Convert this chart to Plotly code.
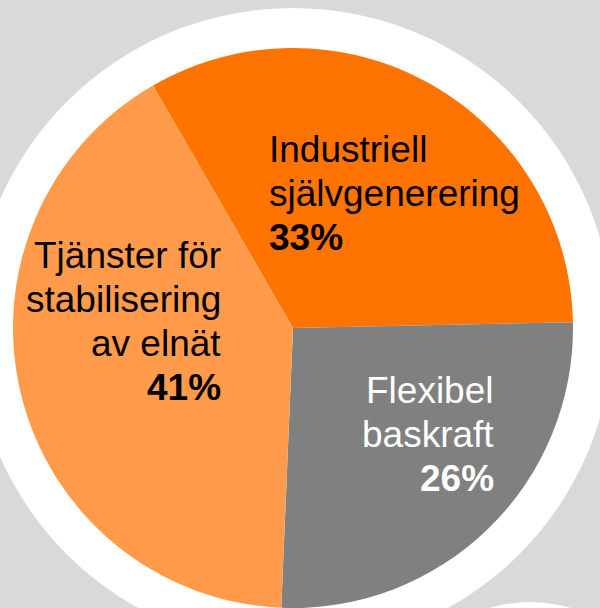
import plotly.graph_objects as go

# data
etiketter = ['Industriell<br>självgenerering', 'Flexibel<br>baskraft', 'Tjänster för<br>stabilisering<br>av elnät']
andelar = [33, 26, 41]
farger = ['#ff7300', '#808080', '#ff9b4b']
textfarger = ['black', 'white', 'black']

W, H = 600, 608
cx, cy, r = 293, 328, 280   # pie centre / radius in px


def px_x(x):
    return x / W


def px_y(y):
    return (H - y) / H


def cirkel(x, y, rad, farg):
    return dict(type='circle', xref='paper', yref='paper', layer='below',
                x0=px_x(x - rad), x1=px_x(x + rad),
                y0=px_y(y + rad), y1=px_y(y - rad),
                fillcolor=farg, line=dict(width=0))


fig = go.Figure(data=[go.Pie(
    labels=[e.replace('<br>', ' ') for e in etiketter], values=andelar,
    marker=dict(colors=farger, line=dict(width=0)),
    sort=False, direction='clockwise', rotation=-30,
    textinfo='none', hoverinfo='label+percent', showlegend=False,
    domain=dict(x=[px_x(cx - r), px_x(cx + r)], y=[px_y(cy + r), px_y(cy - r)]))
])

# label text, one annotation per line (x anchor px, first baseline px, align)
placering = [(268, 162, 'left'), (495, 403, 'right'), (222, 268, 'right')]
radavstand = 44
fs = 37

annots = []
for i, (etikett, andel) in enumerate(zip(etiketter, andelar)):
    x, bas, just = placering[i]
    rader = etikett.split('<br>') + ['<b>%d%%</b>' % andel]
    for j, rad in enumerate(rader):
        yb = bas + j * radavstand
        annots.append(dict(
            text=rad, x=px_x(x), y=px_y(yb - 0.3465 * fs),
            xref='paper', yref='paper', xanchor=just, yanchor='middle',
            align=just, showarrow=False, borderpad=0,
            font=dict(family='Liberation Sans, Arial', size=fs, color=textfarger[i])))

fig.update_layout(
    width=W, height=H,
    margin=dict(t=0, b=0, l=0, r=0),
    paper_bgcolor='#d9d9d9', plot_bgcolor='#d9d9d9',
    shapes=[cirkel(cx, cy, 320, 'white'), cirkel(530, 745, 143, 'white')],
    annotations=annots)

fig.write_html("out.html", config={'displayModeBar': False},
               post_script="document.body.style.margin='0px';")
